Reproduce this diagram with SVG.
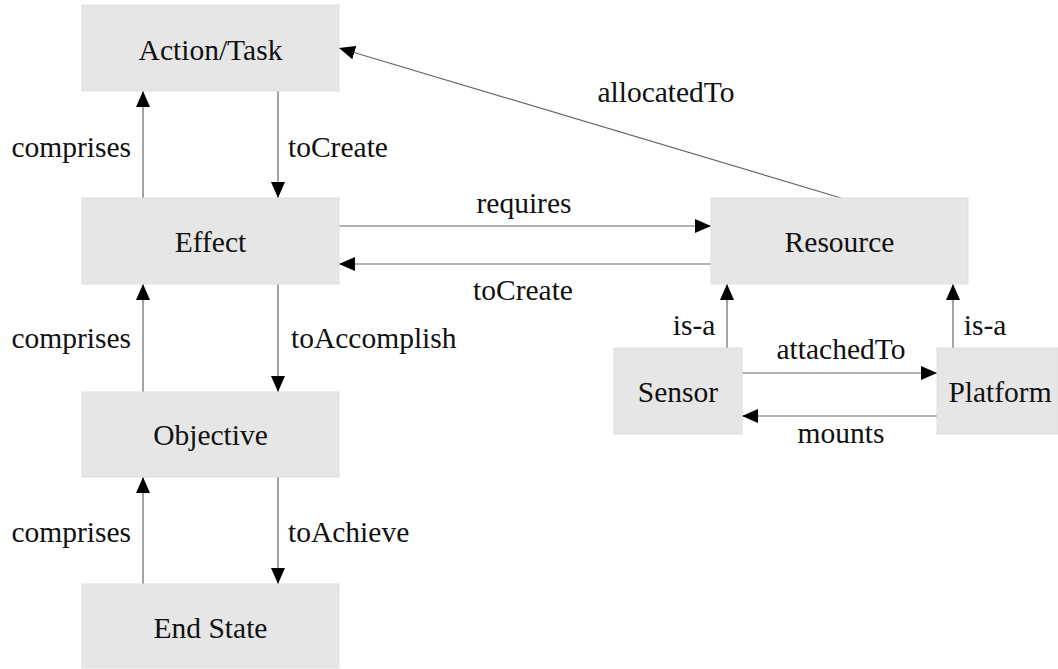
<svg xmlns="http://www.w3.org/2000/svg" width="1058" height="669" viewBox="0 0 1058 669">
  <defs>
    <marker id="arrow" markerUnits="userSpaceOnUse" markerWidth="16" markerHeight="16" viewBox="0 0 16 14" refX="16" refY="7" orient="auto">
      <path d="M0,0 L16,7 L0,14 Z" fill="#000"/>
    </marker>
    <style>
      .node rect { fill: #e6e6e6; stroke: #dedede; stroke-width: 1; }
      text { font-family: "Liberation Serif", "Times New Roman", serif; font-size: 29.5px; fill: #111; }
      .label { text-anchor: middle; }
      .edge { stroke: #666; stroke-width: 1.2; fill: none; marker-end: url(#arrow); }
    </style>
  </defs>
  <rect width="1058" height="669" fill="#fff"/>

  <!-- connectors -->
  <g id="connectors">
    <line class="edge" x1="143" y1="198" x2="143" y2="91"/>
    <line class="edge" x1="278" y1="91" x2="278" y2="198"/>
    <line class="edge" x1="143" y1="392" x2="143" y2="284"/>
    <line class="edge" x1="278" y1="284" x2="278" y2="392"/>
    <line class="edge" x1="143" y1="584" x2="143" y2="477"/>
    <line class="edge" x1="278" y1="477" x2="278" y2="584"/>
    <line class="edge" x1="339" y1="226" x2="711" y2="226"/>
    <line class="edge" x1="711" y1="264" x2="339" y2="264"/>
    <line class="edge" x1="841" y1="198" x2="339" y2="48"/>
    <line class="edge" x1="727" y1="348" x2="727" y2="284"/>
    <line class="edge" x1="953" y1="348" x2="953" y2="284"/>
    <line class="edge" x1="742" y1="373" x2="937" y2="373"/>
    <line class="edge" x1="937" y1="416" x2="742" y2="416"/>

    <text x="131" y="157" text-anchor="end">comprises</text>
    <text x="288" y="157">toCreate</text>
    <text x="131" y="348" text-anchor="end">comprises</text>
    <text x="291" y="348">toAccomplish</text>
    <text x="131" y="542" text-anchor="end">comprises</text>
    <text x="288" y="542">toAchieve</text>
    <text class="label" x="524" y="213">requires</text>
    <text class="label" x="523" y="300">toCreate</text>
    <text class="label" x="666" y="102">allocatedTo</text>
    <text class="label" x="694" y="335">is-a</text>
    <text class="label" x="985" y="335">is-a</text>
    <text class="label" x="841" y="359">attachedTo</text>
    <text class="label" x="841" y="443">mounts</text>
  </g>

  <!-- nodes -->
  <g id="action-task" class="node">
    <rect x="82" y="5" width="257" height="86"/>
    <text class="label" x="210.5" y="60">Action/Task</text>
  </g>
  <g id="effect" class="node">
    <rect x="82" y="198" width="257" height="86"/>
    <text class="label" x="210.5" y="252">Effect</text>
  </g>
  <g id="objective" class="node">
    <rect x="82" y="392" width="257" height="85"/>
    <text class="label" x="210.5" y="445">Objective</text>
  </g>
  <g id="end-state" class="node">
    <rect x="82" y="584" width="257" height="84"/>
    <text class="label" x="210.5" y="638">End State</text>
  </g>
  <g id="resource" class="node">
    <rect x="711" y="198" width="257" height="86"/>
    <text class="label" x="839.5" y="252">Resource</text>
  </g>
  <g id="sensor" class="node">
    <rect x="614" y="348" width="128" height="86"/>
    <text class="label" x="678" y="402">Sensor</text>
  </g>
  <g id="platform" class="node">
    <rect x="937" y="348" width="121" height="86"/>
    <text class="label" x="1000" y="402">Platform</text>
  </g>
</svg>
